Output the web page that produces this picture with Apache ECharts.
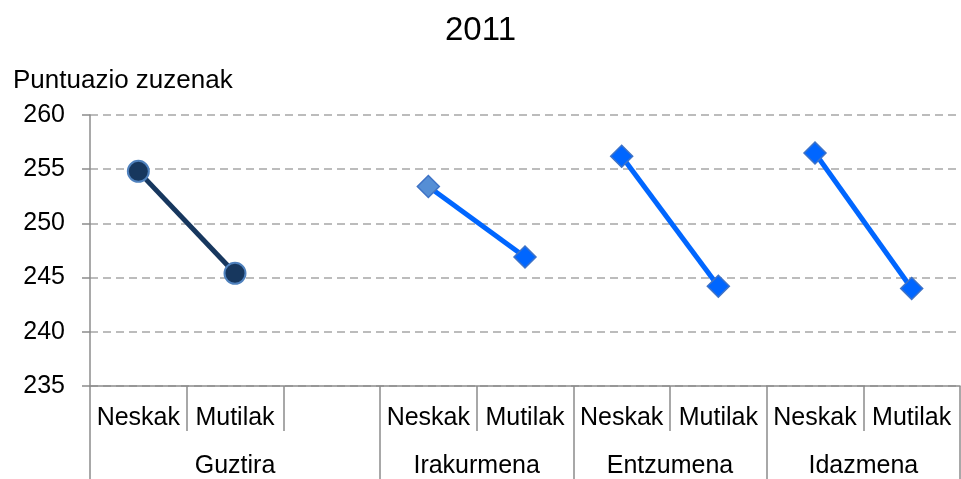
<!DOCTYPE html>
<html>
<head>
<meta charset="utf-8">
<script src="https://cdn.jsdelivr.net/npm/echarts@6/dist/echarts.min.js"></script>
<style>
  html, body { margin: 0; padding: 0; background: #fff; }
  #chart { width: 961px; height: 479px; }
</style>
</head>
<body>
<div id="chart"></div>
<script>
// categories along the bottom axis (Guztira has an empty third slot)
const categories = ['Neskak', 'Mutilak', '', 'Neskak', 'Mutilak', 'Neskak', 'Mutilak', 'Neskak', 'Mutilak'];
const groups = ['Guztira', 'Irakurmena', 'Entzumena', 'Idazmena'];
// category index where each group starts, last entry = total count
const groupStarts = [0, 3, 5, 7, 9];

// Neskak / Mutilak scores per group
const guztira = [254.8, 245.4];
const irakurmena = [253.4, 246.9];
const entzumena = [256.2, 244.2];
const idazmena = [256.5, 244.0];

const yTicks = [235, 240, 245, 250, 255, 260];

const FONT = 'Liberation Sans, Arial, sans-serif';
const BLUE = '#0066ff';

// put a pair of values into a full-length array at the group's position
const placePair = (pair, groupIndex) => {
    const arr = categories.map(() => null);
    const start = groupStarts[groupIndex];
    arr[start] = pair[0];
    arr[start + 1] = pair[1];
    return arr;
};

const groupCenters = groups.map((g, i) => (groupStarts[i] + groupStarts[i + 1]) / 2);

const diamondSeries = (name, pair, groupIndex, firstColor) => {
    const data = placePair(pair, groupIndex).map((v, i) => {
        if (v === null) return null;
        if (firstColor && i === groupStarts[groupIndex]) {
            return { value: v, itemStyle: { color: firstColor } };
        }
        return v;
    });
    return {
        name,
        type: 'line',
        data,
        connectNulls: false,
        symbol: 'diamond',
        symbolSize: 22,
        lineStyle: { color: BLUE, width: 5 },
        itemStyle: { color: BLUE, borderColor: '#3f73c6', borderWidth: 1.5 },
        z: 3
    };
};

const chart = echarts.init(document.getElementById('chart'));

const option = {
    animation: false,
    textStyle: { fontFamily: FONT },
    title: [
        {
            text: '2011',
            left: 'center',
            top: 9,
            textStyle: { fontSize: 33, fontWeight: 'normal', color: '#000', fontFamily: FONT }
        },
        {
            text: 'Puntuazio zuzenak',
            left: 8,
            top: 63,
            textStyle: { fontSize: 26, fontWeight: 'normal', color: '#000', fontFamily: FONT }
        }
    ],
    grid: {
        left: 90,
        right: 1,
        top: 115,
        bottom: 89,
        containLabel: false
    },
    xAxis: [
        {
            type: 'category',
            data: categories,
            boundaryGap: true,
            position: 'bottom',
            axisLine: { show: true, lineStyle: { color: '#8c8c8c', width: 1.5 } },
            axisTick: { show: true, interval: 0, length: 45, lineStyle: { color: '#8c8c8c', width: 1.5 } },
            axisLabel: { interval: 0, fontSize: 25, color: '#000', margin: 20, fontFamily: FONT },
            splitLine: { show: false }
        },
        {
            type: 'value',
            min: 0,
            max: categories.length,
            position: 'bottom',
            axisLine: { show: false },
            axisTick: {
                show: true,
                customValues: groupStarts,
                length: 95,
                lineStyle: { color: '#8c8c8c', width: 1.5 }
            },
            axisLabel: {
                customValues: groupCenters,
                formatter: (v) => groups[groupCenters.indexOf(v)] || '',
                fontSize: 25,
                color: '#000',
                margin: 68,
                fontFamily: FONT
            },
            splitLine: { show: false }
        }
    ],
    yAxis: {
        type: 'value',
        min: yTicks[0],
        max: yTicks[yTicks.length - 1],
        interval: 5,
        axisLine: { show: true, lineStyle: { color: '#8c8c8c', width: 1.5 } },
        axisTick: { show: true, length: 8, lineStyle: { color: '#8c8c8c', width: 1.5 } },
        axisLabel: { fontSize: 25, color: '#000', margin: 25, fontFamily: FONT },
        splitLine: {
            show: true,
            lineStyle: { color: '#a6a6a6', width: 1.5, type: [8, 5] }
        }
    },
    series: [
        {
            name: 'Guztira',
            type: 'line',
            data: placePair(guztira, 0),
            symbol: 'circle',
            symbolSize: 21,
            lineStyle: { color: '#17375e', width: 5 },
            itemStyle: { color: '#17375e', borderColor: '#4f81bd', borderWidth: 2 },
            z: 3
        },
        diamondSeries('Irakurmena', irakurmena, 1, '#558ed5'),
        diamondSeries('Entzumena', entzumena, 2),
        diamondSeries('Idazmena', idazmena, 3)
    ]
};

chart.setOption(option);
</script>
</body>
</html>
